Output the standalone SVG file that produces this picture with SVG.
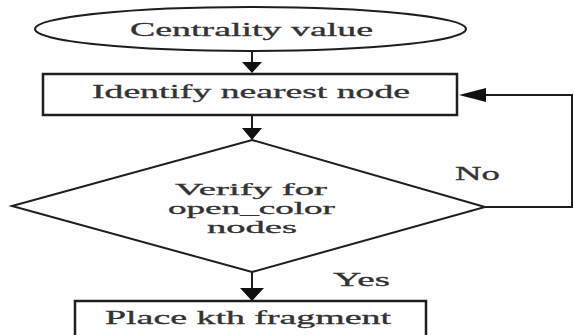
<svg xmlns="http://www.w3.org/2000/svg" width="574" height="335" viewBox="0 0 574 335">
<style>
.s{fill:#fff;stroke:#1e1e1e;stroke-width:2}
.b{fill:#fff;stroke:#1e1e1e;stroke-width:2.5}
.c{fill:none;stroke:#1e1e1e;stroke-width:2}
.h{fill:#111;stroke:none}
text{font-family:"Liberation Serif","Times New Roman",serif;font-size:19px;fill:#333;stroke:#333;stroke-width:0.3}
.d{font-size:16.5px}
</style>
<rect width="574" height="335" fill="#fff"/>
<g id="connectors">
<line class="c" x1="252" y1="51" x2="252" y2="64"/>
<polygon class="h" points="242,62 262,62 252,73"/>
<line class="c" x1="252" y1="115" x2="252" y2="130"/>
<polygon class="h" points="242,128 262,128 252,140"/>
<line class="c" x1="252" y1="272" x2="252" y2="290"/>
<polygon class="h" points="240,288 264,288 252,301"/>
<polyline class="c" points="485,207 572,207 572,95 484,95"/>
<polygon class="h" points="486,88 486,102 459,95"/>
<text x="455" y="180" textLength="45" lengthAdjust="spacingAndGlyphs">No</text>
<text x="333" y="286" textLength="57" lengthAdjust="spacingAndGlyphs">Yes</text>
</g>
<g id="start">
<ellipse class="s" cx="250.5" cy="29" rx="215.5" ry="22"/>
<text x="130" y="36" textLength="243" lengthAdjust="spacingAndGlyphs">Centrality value</text>
</g>
<g id="identify">
<rect class="b" x="43" y="74" width="414" height="41"/>
<text x="92" y="98" textLength="318" lengthAdjust="spacingAndGlyphs">Identify nearest node</text>
</g>
<g id="verify">
<polygon class="s" points="252,140 485,207 252,272 12,206"/>
<text class="d" x="175" y="195" textLength="152" lengthAdjust="spacingAndGlyphs">Verify for</text>
<text class="d" x="168" y="214" textLength="167" lengthAdjust="spacingAndGlyphs">open_color</text>
<text class="d" x="207" y="233" textLength="90" lengthAdjust="spacingAndGlyphs">nodes</text>
</g>
<g id="place">
<rect class="b" x="75" y="301" width="351" height="42"/>
<text x="105" y="324" textLength="286" lengthAdjust="spacingAndGlyphs">Place kth fragment</text>
</g>
</svg>
